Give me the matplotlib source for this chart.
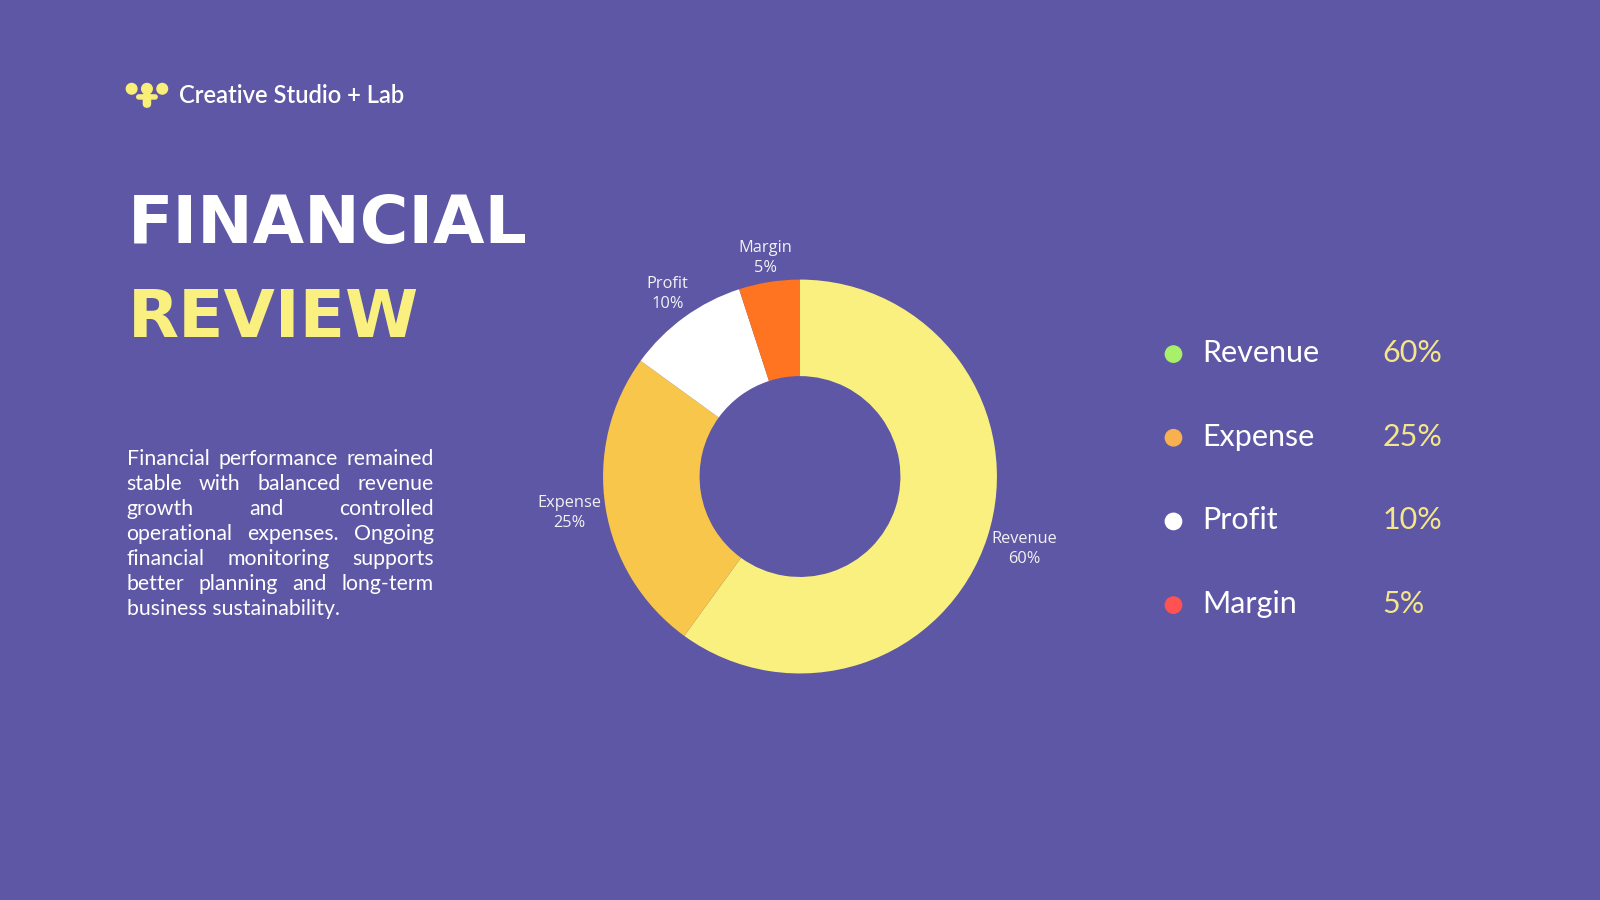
import matplotlib
matplotlib.use("Agg")
import numpy as np
import matplotlib.pyplot as plt
from matplotlib.patches import Circle, FancyBboxPatch

# data
categories = ["Revenue", "Expense", "Profit", "Margin"]
shares = [60, 25, 10, 5]
pie_colors = ["#F9F07F", "#F8C64A", "#FFFFFF", "#FE7420"]
legend_dots = ["#A8F06A", "#F8B050", "#FFFFFF", "#FF5252"]

paragraph_lines = [
    "Financial performance remained",
    "stable with balanced revenue",
    "growth and controlled",
    "operational expenses. Ongoing",
    "financial monitoring supports",
    "better planning and long-term",
    "business sustainability.",
]

BG = "#5D57A5"
W, H = 1600, 900
REF_W, REF_H = 1568, 882
S = W / REF_W


def fx(x):
    return x / REF_W


def fy(y):
    return 1 - y / REF_H


fig = plt.figure(figsize=(16, 9), dpi=100, facecolor=BG)
renderer = fig.canvas.get_renderer()


def text_width(s, **kw):
    t = fig.text(0, 0, s, **kw)
    w = t.get_window_extent(renderer).width
    t.remove()
    return w


def fit_size(s, target_px, **kw):
    # font size that makes the string target_px wide
    w = text_width(s, fontsize=20, **kw)
    return 20 * target_px / w


# overlay axes in reference pixel units (logo + legend dots)
over = fig.add_axes([0, 0, 1, 1], facecolor="none")
over.set_xlim(0, REF_W)
over.set_ylim(REF_H, 0)
over.axis("off")

yel = "#F9EE78"
for cx in (129, 144, 159):
    over.add_patch(Circle((cx, 87), 5.2, color=yel))
over.add_patch(FancyBboxPatch((140.5, 91), 7, 14, boxstyle="round,pad=0,rounding_size=3.5", color=yel))
over.add_patch(FancyBboxPatch((134, 93), 20, 4, boxstyle="round,pad=0,rounding_size=2", color=yel))

head_kw = dict(family="Lato", weight="semibold")
fig.text(fx(175), fy(101), "Creative Studio + Lab", color="white",
         fontsize=fit_size("Creative Studio + Lab", 221 * S, **head_kw),
         va="baseline", ha="left", **head_kw)

# big title
fig.text(fx(125), fy(238), "FINANCIAL", color="white", fontsize=47.8,
         family="DejaVu Sans", weight="bold", va="baseline", ha="left")
fig.text(fx(125), fy(330), "REVIEW", color="#F9F07F", fontsize=47.8,
         family="DejaVu Sans", weight="bold", va="baseline", ha="left")

# justified paragraph
para_base = dict(family="Lato")
para_size = fit_size(paragraph_lines[-1], 208 * S, **para_base)
para_kw = dict(color="white", fontsize=para_size, va="center", ha="left", **para_base)

x0, x1 = 124 * S, 425 * S
y_first, line_gap = 450, 24.5
for i, line in enumerate(paragraph_lines):
    y = fy(y_first + i * line_gap)
    words = line.split()
    if i == len(paragraph_lines) - 1 or len(words) == 1:
        fig.text(x0 / W, y, line, **para_kw)
        continue
    widths = [text_width(w, fontsize=para_size, **para_base) for w in words]
    gap = (x1 - x0 - sum(widths)) / (len(words) - 1)
    x = x0
    for w, wd in zip(words, widths):
        fig.text(x / W, y, w, **para_kw)
        x += wd + gap

# donut
R_px = 193 * S
lim = 1.45
side = 2 * lim * R_px
cx, cy = 784 * S, H - 467 * S
ax = fig.add_axes([(cx - side / 2) / W, (cy - side / 2) / H, side / W, side / H])
ax.set_facecolor("none")
labels = [f"{c}\n{v}%" for c, v in zip(categories, shares)]
wedges, texts = ax.pie(shares, colors=pie_colors, startangle=90, counterclock=False,
                       radius=1.0, labels=labels, labeldistance=1.0,
                       wedgeprops=dict(width=0.49, linewidth=0),
                       textprops=dict(color="#F2F2F2", fontsize=11.8, family="Open Sans",
                                      linespacing=1.35))
ax.set_xlim(-lim, lim)
ax.set_ylim(-lim, lim)
ax.set_aspect("equal")
ax.axis("off")

# push each label outward so its box sits just outside the ring
for wdg, t in zip(wedges, texts):
    t.set_ha("center")
    t.set_va("center")
    ang = np.deg2rad((wdg.theta1 + wdg.theta2) / 2)
    d = np.array([np.cos(ang), np.sin(ang)])
    bb = t.get_window_extent(renderer)
    off = abs(d[0]) * bb.width / 2 + abs(d[1]) * bb.height / 2
    r = 1.01 + off / R_px
    t.set_position((r * d[0], r * d[1]))

# legend on the right
leg_y0, leg_gap = 346, 82
for i, (c, v, col) in enumerate(zip(categories, shares, legend_dots)):
    y = leg_y0 + i * leg_gap
    over.add_patch(Circle((1150, y + 1), 8, color=col))
    fig.text(fx(1178), fy(y), c, color="white", fontsize=22, family="Lato",
             va="center", ha="left")
    fig.text(fx(1355), fy(y), f"{v}%", color="#F5E68A", fontsize=22, family="Lato",
             va="center", ha="left")

fig.savefig("out.png", dpi=100, facecolor=BG)
